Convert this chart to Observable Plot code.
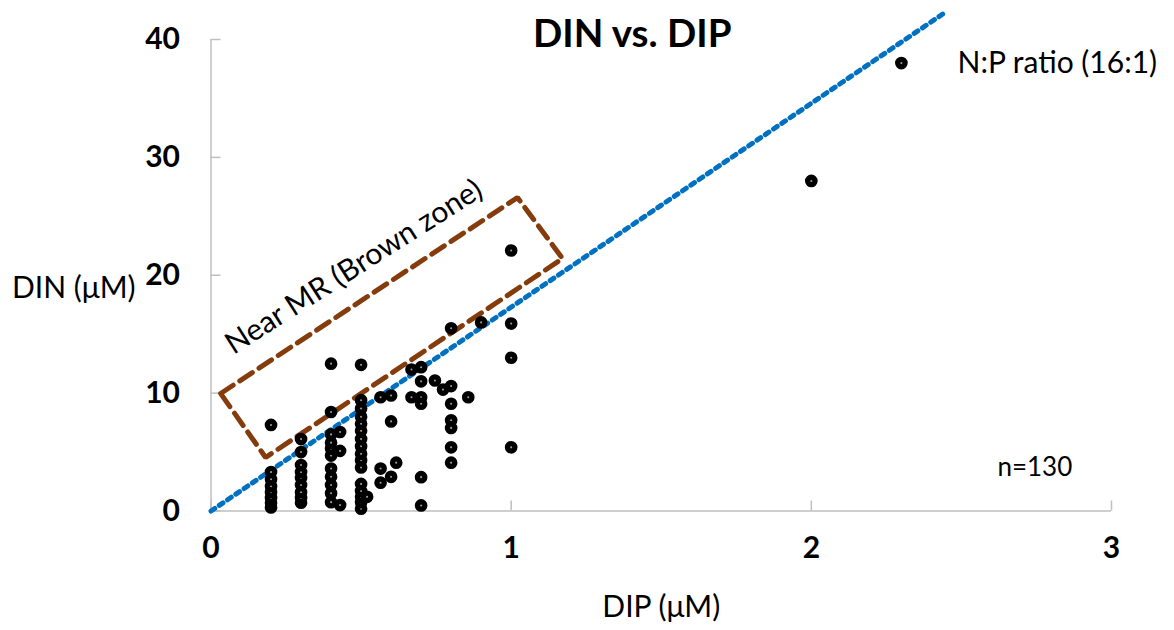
<!DOCTYPE html>
<html>
<head>
<meta charset="utf-8">
<script src="https://cdn.jsdelivr.net/npm/d3@7"></script>
<script src="https://cdn.jsdelivr.net/npm/@observablehq/plot@0.6"></script>
<style>
  html, body { margin: 0; padding: 0; background: white; }
  svg { display: block; }
  g[aria-label="x-axis tick label"] text, g[aria-label="y-axis tick label"] text { font-weight: bold; }
</style>
</head>
<body>
<div id="chart"></div>
<script>
// ---- data ----
const chartTitle = "DIN vs. DIP";
const xLabel = "DIP (μM)";
const yLabel = "DIN (μM)";
const xTicks = [0, 1, 2, 3];
const yTicks = [0, 10, 20, 30, 40];

// DIP (x) and DIN (y) for each visible sample point
const dip = [
  0.2,0.2,0.2,0.2,0.2,0.2,0.2,0.2,
  0.3,0.3,0.3,0.3,0.3,0.3,0.3,0.3,0.3,
  0.4,0.4,0.4,0.4,0.4,0.4,0.4,0.4,0.4,0.4,0.4,
  0.43,0.43,0.43,
  0.5,0.5,0.5,0.5,0.5,0.5,0.5,0.5,0.5,0.5,0.5,0.5,0.5,0.5,0.5,0.5,
  0.52,
  0.565,0.565,0.565,
  0.6,0.6,0.6,
  0.617,
  0.668,0.668,
  0.7,0.7,0.7,0.7,0.7,0.7,
  0.746,
  0.773,
  0.8,0.8,0.8,0.8,0.8,0.8,0.8,
  0.857,
  0.9,
  1.0,1.0,1.0,1.0,
  2.0,
  2.3
];
const din = [
  0.3,0.7,1.1,1.6,2.1,2.7,3.3,7.3,
  0.7,1.1,1.6,2.2,2.8,3.3,3.9,5.0,6.1,
  0.75,1.5,2.2,2.9,3.6,4.7,5.3,5.8,6.5,8.4,12.5,
  0.5,5.1,6.7,
  0.2,0.75,1.2,1.7,2.3,3.7,4.3,4.85,5.5,6.1,6.8,7.4,8.0,8.7,9.4,12.4,
  1.2,
  9.65,3.6,2.4,
  9.8,7.6,2.9,
  4.1,
  12.0,9.65,
  12.2,11.0,9.65,9.1,2.87,0.47,
  11.07,
  10.3,
  15.5,10.6,9.1,7.7,7.05,5.4,4.1,
  9.65,
  16.0,
  22.1,15.9,13.0,5.4,
  28.0,
  38.0
];

// N:P ratio reference line (as drawn), in data units
const ratioDip = [0, 2.44];
const ratioDin = [0, 42.2];

// Brown zone box corners (closed), in data units
const zoneDip = [0.032, 1.021, 1.171, 0.182, 0.032];
const zoneDin = [9.97, 26.59, 21.42, 4.54, 9.97];

// annotations
const annoText = ["N:P ratio (16:1)", "n=130"];
const annoDip = [2.487, 2.62];
const annoDin = [38.0, 3.7];
const annoSize = [30, 26];
const zoneLabel = ["Near MR (Brown zone)"];
const zoneLabelDip = [0.476];
const zoneLabelDin = [20.7];

// ---- build tables ----
const points = dip.map((d, i) => ({dip: d, din: din[i]}));
const ratioLine = ratioDip.map((d, i) => ({dip: d, din: ratioDin[i]}));
const zoneBox = zoneDip.map((d, i) => ({dip: d, din: zoneDin[i]}));
const annos = annoText.map((t, i) => ({text: t, dip: annoDip[i], din: annoDin[i], size: annoSize[i]}));
const zoneLab = zoneLabel.map((t, i) => ({text: t, dip: zoneLabelDip[i], din: zoneLabelDin[i]}));

const axisGray = "#bfbfbf";
const font = "Lato, 'Open Sans', sans-serif";

const chart = Plot.plot({
  width: 1174,
  height: 630,
  marginLeft: 210.5,
  marginRight: 63,
  marginTop: 39,
  marginBottom: 119.5,
  style: {fontFamily: font, color: "black", background: "white", overflow: "visible"},
  x: {domain: [0, 3]},
  y: {domain: [0, 40]},
  marks: [
    Plot.ruleX([0], {stroke: axisGray, strokeWidth: 1.5}),
    Plot.ruleY([0], {stroke: axisGray, strokeWidth: 1.5}),
    Plot.axisY({ticks: yTicks, tickSize: 10, dx: 10, text: null, stroke: axisGray, strokeWidth: 1.5, label: null}),
    Plot.axisX({ticks: xTicks, tickSize: 10, dy: -10, text: null, stroke: axisGray, strokeWidth: 1.5, label: null}),
    Plot.axisY({ticks: yTicks, tickSize: 0, tickPadding: 31, fontSize: 30, fontWeight: "bold", label: null, tickFormat: d => String(d)}),
    Plot.axisX({ticks: xTicks, tickSize: 0, tickPadding: 26, fontSize: 30, fontWeight: "bold", label: null, tickFormat: d => String(d)}),
    Plot.line(zoneBox, {x: "dip", y: "din", stroke: "#843C0C", strokeWidth: 5, strokeDasharray: "15,8", strokeLinejoin: "miter"}),
    Plot.line(ratioLine, {x: "dip", y: "din", stroke: "#0070C0", strokeWidth: 5, strokeDasharray: "4.5,5.5"}),
    Plot.dot(points, {x: "dip", y: "din", r: 3.7, stroke: "black", strokeWidth: 5.3, fill: "#9a9a9a"}),
    Plot.text(zoneLab, {x: "dip", y: "din", text: "text", rotate: -32.5, fontSize: 30, fill: "black"}),
    Plot.text(annos, {x: "dip", y: "din", text: "text", textAnchor: "start", fontSize: "size", fill: "black"}),
    Plot.text([chartTitle], {frameAnchor: "top", lineAnchor: "middle", textAnchor: "middle", dx: -29, dy: -4.5, fontSize: 38.5, fontWeight: "bold", fill: "black"}),
    Plot.text([yLabel], {frameAnchor: "left", lineAnchor: "middle", textAnchor: "start", dx: -199, dy: 13, fontSize: 30, fill: "black"}),
    Plot.text([xLabel], {frameAnchor: "bottom", lineAnchor: "middle", textAnchor: "middle", dy: 96.5, fontSize: 30, fill: "black"})
  ]
});
document.getElementById("chart").appendChild(chart);
</script>
</body>
</html>
